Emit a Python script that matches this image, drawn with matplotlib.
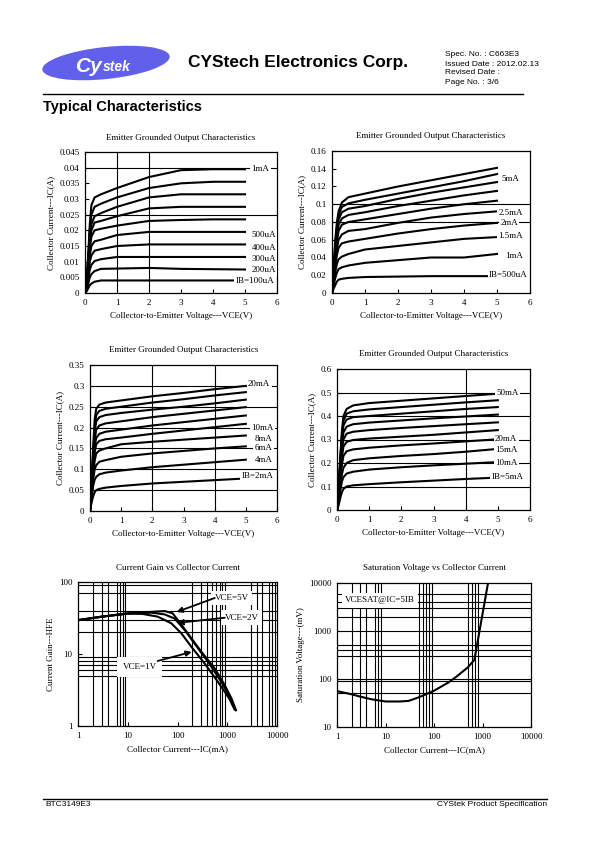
import matplotlib
matplotlib.use('Agg')
import matplotlib.pyplot as plt
from matplotlib.patches import Ellipse

plt.rcParams['font.family'] = ['Liberation Serif', 'DejaVu Serif']

W, H = 595, 842

# ---------------- data ----------------
# output characteristics: Vce sample points shared by all curves
vce = [0, 0.05, 0.1, 0.15, 0.2, 0.3, 0.5, 1, 2, 3, 4, 5]

# chart 1: IB = 100uA .. 1mA
ic_small = [
    [0, 0.004, 0.012, 0.022, 0.028, 0.0305, 0.0315, 0.0335, 0.037, 0.0392, 0.0395, 0.0395],
    [0, 0.004, 0.011, 0.020, 0.025, 0.0275, 0.0285, 0.0305, 0.0335, 0.035, 0.0355, 0.0355],
    [0, 0.0035, 0.010, 0.018, 0.022, 0.0245, 0.0255, 0.0275, 0.0305, 0.0315, 0.0315, 0.0315],
    [0, 0.003, 0.009, 0.016, 0.020, 0.0225, 0.023, 0.0245, 0.027, 0.0275, 0.0275, 0.0275],
    [0, 0.003, 0.008, 0.014, 0.018, 0.020, 0.0205, 0.0215, 0.023, 0.0233, 0.0235, 0.0235],
    [0, 0.0025, 0.007, 0.012, 0.015, 0.0165, 0.017, 0.0185, 0.0195, 0.0195, 0.0195, 0.0195],
    [0, 0.002, 0.006, 0.010, 0.012, 0.0135, 0.014, 0.015, 0.0155, 0.0155, 0.0155, 0.0155],
    [0, 0.0015, 0.0045, 0.0075, 0.009, 0.0102, 0.0108, 0.0115, 0.0115, 0.0115, 0.0115, 0.0115],
    [0, 0.001, 0.003, 0.005, 0.006, 0.007, 0.0077, 0.0078, 0.008, 0.0077, 0.0076, 0.0075],
    [0, 0.0005, 0.0015, 0.0025, 0.003, 0.0036, 0.004, 0.004, 0.004, 0.004, 0.004, 0.004],
]
labels_small = [('1mA', 5.2, 0.0397), ('500uA', 5.2, 0.0185), ('400uA', 5.2, 0.0145),
                ('300uA', 5.2, 0.0109), ('200uA', 5.2, 0.0072), ('IB=100uA', 4.7, 0.0039)]

# chart 2: IB = 500uA .. 5mA
ic_mid = [
    [0, 0.03, 0.06, 0.08, 0.092, 0.102, 0.108, 0.112, 0.120, 0.127, 0.134, 0.141],
    [0, 0.028, 0.055, 0.075, 0.088, 0.097, 0.101, 0.105, 0.112, 0.119, 0.126, 0.134],
    [0, 0.026, 0.05, 0.07, 0.083, 0.091, 0.095, 0.098, 0.106, 0.113, 0.119, 0.125],
    [0, 0.024, 0.046, 0.064, 0.077, 0.084, 0.088, 0.091, 0.098, 0.104, 0.110, 0.115],
    [0, 0.022, 0.042, 0.058, 0.07, 0.077, 0.080, 0.083, 0.089, 0.095, 0.100, 0.104],
    [0, 0.019, 0.036, 0.05, 0.06, 0.066, 0.070, 0.072, 0.079, 0.085, 0.089, 0.092],
    [0, 0.016, 0.031, 0.043, 0.051, 0.056, 0.058, 0.061, 0.067, 0.072, 0.076, 0.079],
    [0, 0.012, 0.024, 0.033, 0.038, 0.041, 0.044, 0.049, 0.053, 0.057, 0.061, 0.063],
    [0, 0.009, 0.017, 0.023, 0.027, 0.029, 0.031, 0.034, 0.037, 0.040, 0.040, 0.044],
    [0, 0.005, 0.009, 0.013, 0.015, 0.016, 0.017, 0.018, 0.0185, 0.019, 0.019, 0.019],
]
labels_mid = [('5mA', 5.14, 0.129), ('2.5mA', 5.04, 0.090), ('2mA', 5.1, 0.0794),
              ('1.5mA', 5.04, 0.0644), ('1mA', 5.25, 0.042), ('IB=500uA', 4.76, 0.0199)]

# chart 3: IB = 2mA .. 20mA
ic_big = [
    [0, 0.06, 0.15, 0.22, 0.245, 0.255, 0.26, 0.265, 0.275, 0.283, 0.292, 0.30],
    [0, 0.06, 0.14, 0.20, 0.23, 0.24, 0.245, 0.25, 0.26, 0.268, 0.277, 0.285],
    [0, 0.05, 0.13, 0.19, 0.215, 0.225, 0.23, 0.235, 0.243, 0.25, 0.258, 0.267],
    [0, 0.05, 0.12, 0.17, 0.195, 0.205, 0.21, 0.215, 0.225, 0.233, 0.241, 0.249],
    [0, 0.05, 0.11, 0.155, 0.175, 0.185, 0.19, 0.195, 0.205, 0.213, 0.221, 0.229],
    [0, 0.045, 0.10, 0.14, 0.16, 0.168, 0.172, 0.176, 0.185, 0.193, 0.201, 0.209],
    [0, 0.04, 0.09, 0.12, 0.138, 0.145, 0.15, 0.16, 0.166, 0.171, 0.176, 0.181],
    [0, 0.035, 0.075, 0.10, 0.11, 0.118, 0.122, 0.13, 0.138, 0.144, 0.15, 0.155],
    [0, 0.03, 0.06, 0.075, 0.082, 0.088, 0.092, 0.097, 0.105, 0.111, 0.117, 0.123],
    [0, 0.02, 0.035, 0.045, 0.05, 0.053, 0.056, 0.06, 0.066, 0.07, 0.074, 0.078],
]
labels_big = [('20mA', 5.07, 0.3035), ('10mA', 5.18, 0.20), ('8mA', 5.28, 0.172),
              ('6mA', 5.28, 0.152), ('4mA', 5.28, 0.122), ('IB=2mA', 4.86, 0.083)]

# chart 4: IB = 5mA .. 50mA
ic_huge = [
    [0, 0.10, 0.22, 0.33, 0.40, 0.43, 0.445, 0.455, 0.465, 0.475, 0.485, 0.495],
    [0, 0.09, 0.21, 0.31, 0.38, 0.41, 0.42, 0.428, 0.438, 0.448, 0.458, 0.467],
    [0, 0.09, 0.20, 0.30, 0.36, 0.385, 0.395, 0.40, 0.41, 0.42, 0.43, 0.438],
    [0, 0.08, 0.18, 0.28, 0.33, 0.355, 0.365, 0.372, 0.381, 0.39, 0.398, 0.406],
    [0, 0.07, 0.16, 0.25, 0.30, 0.325, 0.333, 0.34, 0.349, 0.357, 0.365, 0.373],
    [0, 0.06, 0.14, 0.22, 0.27, 0.29, 0.298, 0.304, 0.312, 0.32, 0.33, 0.34],
    [0, 0.05, 0.12, 0.19, 0.23, 0.25, 0.258, 0.265, 0.275, 0.283, 0.292, 0.301],
    [0, 0.04, 0.10, 0.15, 0.18, 0.20, 0.212, 0.22, 0.23, 0.238, 0.248, 0.26],
    [0, 0.03, 0.08, 0.12, 0.14, 0.155, 0.163, 0.172, 0.182, 0.19, 0.197, 0.204],
    [0, 0.02, 0.05, 0.075, 0.09, 0.10, 0.105, 0.11, 0.118, 0.125, 0.132, 0.138],
]
labels_huge = [('50mA', 4.96, 0.4976), ('20mA', 4.91, 0.301), ('15mA', 4.91, 0.256),
               ('10mA', 4.93, 0.199), ('IB=5mA', 4.8, 0.139)]

# chart 5: current gain vs collector current
ic_5v = [1, 3, 10, 30, 55, 80, 120, 190, 300, 560, 890, 1220, 1500]
hfe_5v = [29.5, 33, 36.5, 38.5, 39.5, 36.7, 25.4, 16.5, 10.8, 6.3, 3.7, 2.4, 1.65]
ic_2v = [1, 3, 10, 30, 55, 88, 140, 220, 410, 760, 1100, 1450]
hfe_2v = [29.5, 33, 36.5, 37.5, 35.5, 31, 21.5, 14, 7.8, 4.1, 2.6, 1.7]
ic_1v = [1, 3, 10, 20, 40, 75, 120, 190, 350, 650, 1100, 1400]
hfe_1v = [29.5, 33, 36.5, 36, 33, 26.7, 19.3, 12.6, 7.4, 4.1, 2.4, 1.7]

# chart 6: saturation voltage
ic_sat = [1, 2, 3, 5, 10, 20, 30, 50, 100, 200, 300, 500, 680, 1300]
vce_sat = [56, 48, 43, 38, 34, 34, 35, 42, 57, 85, 115, 175, 250, 10000]


def rect(l, t, r, b):
    return [l / W, 1 - b / H, (r - l) / W, (b - t) / H]


fig = plt.figure(figsize=(W / 100, H / 100), dpi=100)

FS = 6.5
box = dict(facecolor='white', edgecolor='none', pad=1.0)


def style(ax, title, xlabel, ylabel):
    ax.set_title(title, fontsize=FS, pad=9)
    ax.set_xlabel(xlabel, fontsize=FS, labelpad=4)
    ax.set_ylabel(ylabel, fontsize=FS, labelpad=3)
    ax.tick_params(direction='in', length=3, width=0.8, labelsize=FS, pad=4)
    for s in ax.spines.values():
        s.set_linewidth(0.9)


def output_chart(pos, ymax, yticks, curves, labels, hgrid, vgrid):
    ax = fig.add_axes(rect(*pos))
    for y in hgrid:
        ax.axhline(y, color='k', lw=0.8, zorder=1)
    for x in vgrid:
        ax.axvline(x, color='k', lw=0.8, zorder=1)
    for ys in curves:
        ax.plot(vce, ys, color='k', lw=1.5, zorder=2, solid_joinstyle='round')
    for txt, x, y in labels:
        ax.text(x, y, txt, fontsize=FS, ha='left', va='center', bbox=box, zorder=3)
    ax.set_xlim(0, 6)
    ax.set_xticks(range(7))
    ax.set_ylim(0, ymax)
    ax.set_yticks(yticks)
    ax.set_yticklabels([f'{v:g}' for v in yticks])
    style(ax, 'Emitter Grounded Output Characteristics',
          'Collector-to-Emitter Voltage---VCE(V)', 'Collector Current---IC(A)')
    return ax


output_chart((85, 152, 277, 293), 0.045,
             [0, 0.005, 0.01, 0.015, 0.02, 0.025, 0.03, 0.035, 0.04, 0.045],
             ic_small, labels_small, [0.04, 0.025], [1, 2])
output_chart((332, 151, 530, 293), 0.16,
             [0, 0.02, 0.04, 0.06, 0.08, 0.1, 0.12, 0.14, 0.16],
             ic_mid, labels_mid, [0.1, 0.08], [])
output_chart((90, 365, 277, 511), 0.35,
             [0, 0.05, 0.1, 0.15, 0.2, 0.25, 0.3, 0.35],
             ic_big, labels_big, [0.05, 0.1, 0.15, 0.2, 0.25, 0.3], [2, 4])
output_chart((337, 369, 530, 510), 0.6,
             [0, 0.1, 0.2, 0.3, 0.4, 0.5, 0.6],
             ic_huge, labels_huge, [0.1, 0.2, 0.3, 0.4, 0.5], [4])

# ---- chart 5: gain ----
ax5 = fig.add_axes(rect(78, 582, 277, 726))
for y in [5, 6, 7, 8, 9, 20, 30, 40, 70, 90]:
    ax5.axhline(y, color='k', lw=0.8, zorder=1)
for x in [2, 3, 4, 6, 7, 8, 9, 200, 300, 400, 500, 600, 700, 800, 900,
          3000, 4000, 5000, 7000, 8000, 9000]:
    ax5.axvline(x, color='k', lw=0.8, zorder=1)
for xs, ys in [(ic_5v, hfe_5v), (ic_2v, hfe_2v), (ic_1v, hfe_1v)]:
    ax5.plot(xs, ys, color='k', lw=1.5, zorder=2)
ax5.set_xscale('log')
ax5.set_yscale('log')
ax5.set_xlim(1, 10000)
ax5.set_ylim(1, 100)
arrow = dict(arrowstyle='-|>', color='k', lw=1.3, mutation_scale=8, shrinkA=0, shrinkB=0)
ax5.annotate('', xy=(96, 38.3), xytext=(560, 60), arrowprops=arrow, zorder=4)
ax5.annotate('', xy=(100, 27), xytext=(890, 31.9), arrowprops=arrow, zorder=4)
ax5.annotate('', xy=(193, 10.7), xytext=(40, 8), arrowprops=arrow, zorder=4)
ax5.text(560, 60, 'VCE=5V', fontsize=FS, ha='left', va='center', bbox=dict(facecolor='white', edgecolor='none', pad=2.5), zorder=3)
ax5.text(890, 32, 'VCE=2V', fontsize=FS, ha='left', va='center', bbox=dict(facecolor='white', edgecolor='none', pad=2.5), zorder=3)
ax5.text(17.4, 6.6, 'VCE=1V', fontsize=FS, ha='center', va='center', bbox=dict(facecolor='white', edgecolor='none', pad=4), zorder=3)
ax5.set_xticks([1, 10, 100, 1000, 10000])
ax5.set_xticklabels(['1', '10', '100', '1000', '10000'])
ax5.set_yticks([1, 10, 100])
ax5.set_yticklabels(['1', '10', '100'])
ax5.minorticks_off()
style(ax5, 'Current Gain vs Collector Current', 'Collector Current---IC(mA)', 'Current Gain---HFE')

# ---- chart 6: saturation voltage ----
ax6 = fig.add_axes(rect(337, 583, 531, 727))
for y in [50, 90, 100, 300, 400, 500, 1000, 2000, 3000, 4000, 6000]:
    ax6.axhline(y, color='k', lw=0.8, zorder=1)
for x in [2, 3, 4, 6, 7, 8, 50, 60, 70, 80, 90, 500, 600, 700, 800]:
    ax6.axvline(x, color='k', lw=0.8, zorder=1)
ax6.plot(ic_sat, vce_sat, color='k', lw=1.5, zorder=2)
ax6.set_xscale('log')
ax6.set_yscale('log')
ax6.set_xlim(1, 10000)
ax6.set_ylim(10, 10000)
ax6.text(7.7, 4400, 'VCESAT@IC=5IB', fontsize=FS, ha='center', va='center',
         bbox=dict(facecolor='white', edgecolor='none', pad=2.5), zorder=3)
ax6.set_xticks([1, 10, 100, 1000, 10000])
ax6.set_xticklabels(['1', '10', '100', '1000', '10000'])
ax6.set_yticks([10, 100, 1000, 10000])
ax6.set_yticklabels(['10', '100', '1000', '10000'])
ax6.minorticks_off()
style(ax6, 'Saturation Voltage vs Collector Current', 'Collector Current---IC(mA)', 'Saturation Voltage---(mV)')

# ---- page header / footer ----
page = fig.add_axes([0, 0, 1, 1], zorder=-1)
page.set_xlim(0, W)
page.set_ylim(H, 0)
page.axis('off')
sans = 'Liberation Sans'
page.add_patch(Ellipse((106, 63), 128, 32, angle=-6, facecolor='#6060ea', edgecolor='none'))
page.text(76, 66, 'Cy', fontsize=15, fontweight='bold', fontstyle='italic', color='white',
          family=sans, va='center', ha='left')
page.text(103, 67, 'stek', fontsize=10, fontweight='bold', fontstyle='italic', color='white',
          family=sans, va='center', ha='left')
page.text(188, 63, 'CYStech Electronics Corp.', fontsize=12.5, fontweight='bold', family=sans,
          va='center', ha='left')
for i, s in enumerate(['Spec. No. : C663E3', 'Issued Date : 2012.02.13',
                       'Revised Date :', 'Page No. : 3/6']):
    page.text(445, 55 + 9 * i, s, fontsize=6, family=sans, va='center', ha='left')
page.plot([43, 523], [94, 94], color='k', lw=1.0)
page.text(43, 107, 'Typical Characteristics', fontsize=10.5, fontweight='bold', family=sans,
          va='center', ha='left')
page.plot([43, 547], [799, 799], color='k', lw=1.0)
page.text(45, 805, 'BTC3149E3', fontsize=6, family=sans, va='center', ha='left')
page.text(547, 805, 'CYStek Product Specification', fontsize=6, family=sans, va='center', ha='right')

fig.savefig('out.png', dpi=100)
